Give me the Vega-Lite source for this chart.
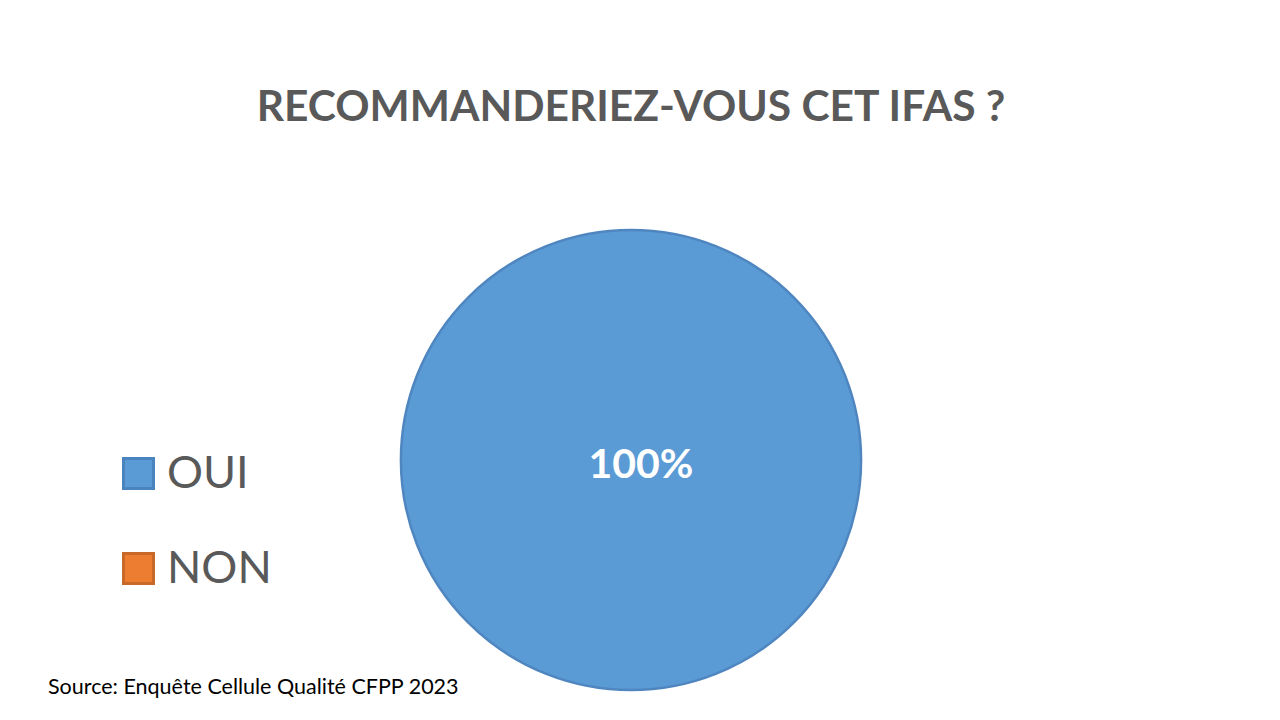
{
  "$schema": "https://vega.github.io/schema/vega-lite/v6.json",
  "background": "white",
  "padding": {"left": 48, "top": 86, "right": 10, "bottom": 10},
  "title": {
    "text": "RECOMMANDERIEZ-VOUS CET IFAS ?",
    "anchor": "middle",
    "frame": "group",
    "font": "Lato",
    "fontSize": 42.5,
    "fontWeight": "bold",
    "color": "#595959",
    "offset": 96
  },
  "config": {"view": {"stroke": null}},
  "vconcat": [
    {
      "width": 460,
      "height": 460,
      "title": {
        "text": "Source: Enquête Cellule Qualité CFPP 2023",
        "orient": "bottom",
        "anchor": "start",
        "dx": -348,
        "offset": -18,
        "font": "Lato",
        "fontSize": 21.5,
        "fontWeight": "normal",
        "color": "#000000"
      },
      "data": {"values": [
        {"reponse": "OUI", "valeur": 100, "label": "100%"},
        {"reponse": "NON", "valeur": 0, "label": ""}
      ]},
      "layer": [
        {
          "mark": {"type": "arc", "strokeWidth": 2.5},
          "encoding": {
            "theta": {"field": "valeur", "type": "quantitative", "stack": true},
            "color": {
              "field": "reponse",
              "type": "nominal",
              "sort": ["OUI", "NON"],
              "scale": {"domain": ["OUI", "NON"], "range": ["#5b9bd5", "#ed7d31"]},
              "legend": {
                "title": null,
                "orient": "none",
                "legendX": -285,
                "legendY": 221,
                "symbolType": "square",
                "symbolSize": 900,
                "symbolStrokeWidth": 3,
                "symbolStrokeColor": "#4a84bf",
                "labelFont": "Lato",
                "labelFontSize": 45,
                "labelColor": "#595959",
                "labelOffset": 6,
                "rowPadding": 49,
                "encode": {
                  "symbols": {"update": {"stroke": [{"test": "datum.value === 'NON'", "value": "#c8692a"}, {"value": "#4a84bf"}], "strokeWidth": {"value": 3}}}
                }
              }
            },
            "stroke": {
              "condition": {"test": "datum.valeur > 0", "value": "#4f86c0"},
              "value": null
            }
          }
        },
        {
          "mark": {"type": "text", "font": "Lato", "fontSize": 41, "fontWeight": "bold", "color": "white", "dx": 10, "dy": 6},
          "encoding": {
            "text": {"field": "label"}
          }
        }
      ]
    }
  ]
}
